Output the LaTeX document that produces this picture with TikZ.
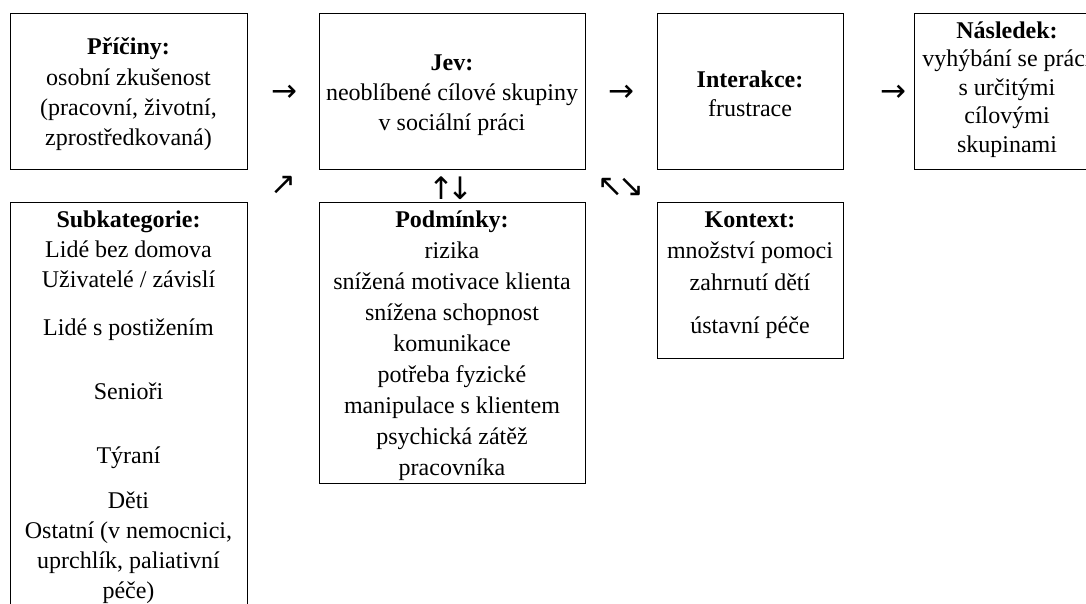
\documentclass[tikz,border=0pt]{standalone}
\usepackage{fontspec}
\setmainfont{Liberation Serif}
\newfontfamily\arrowfont{DejaVu Sans}
\begin{document}
\begin{tikzpicture}[x=1pt,y=-1pt,
  box/.style={draw=black, line width=1pt, inner sep=0pt, rectangle},
  txt/.style={align=center, inner sep=0pt, anchor=north},
  arr/.style={font=\arrowfont\fontsize{31}{34}\selectfont, inner sep=0pt}]
\useasboundingbox (0,0) rectangle (1086,603);
\clip (0,0) rectangle (1086,603);
% boxes
\node (pric)  [box, minimum width=237pt, minimum height=156pt] at (128.5,91) {};
\node (jev)   [box, minimum width=266pt, minimum height=156pt] at (452,91) {};
\node (inter) [box, minimum width=186pt, minimum height=156pt] at (750,91) {};
\node (nasl)  [box, minimum width=186pt, minimum height=156pt] at (1007,91) {};
\node (sub)   [box, minimum width=237pt, minimum height=448pt] at (128.5,426) {};
\node (podm)  [box, minimum width=266pt, minimum height=281pt] at (452,342.5) {};
\node (kont)  [box, minimum width=186pt, minimum height=156pt] at (750,280) {};
% texts
\node (pricT) [txt, font=\fontsize{24}{30.3}\selectfont] at (128.5,33.3)
  {\strut\textbf{Příčiny:}\\\strut osobní zkušenost\\\strut (pracovní, životní,\\\strut zprostředkovaná)};
\node (jevT) [txt, font=\fontsize{24}{30}\selectfont] at (452,49)
  {\strut\textbf{Jev:}\\\strut neoblíbené cílové skupiny\\\strut v sociální práci};
\node (interT) [txt, font=\fontsize{24}{29.5}\selectfont] at (750,66.35)
  {\strut\textbf{Interakce:}\\\strut frustrace};
\node (naslT) [txt, font=\fontsize{24}{28.5}\selectfont] at (1007,18.05)
  {\strut\textbf{Následek:}\\\strut vyhýbání se práci\\\strut s určitými\\\strut cílovými\\\strut skupinami};
\node (podmT) [txt, font=\fontsize{24}{31.1}\selectfont] at (452,205.2)
  {\strut\textbf{Podmínky:}\\\strut rizika\\\strut snížená motivace klienta\\\strut snížena schopnost\\\strut komunikace\\\strut potřeba fyzické\\\strut manipulace s klientem\\\strut psychická zátěž\\\strut pracovníka};
\node (kontT) [txt, font=\fontsize{24}{31.5}\selectfont] at (750,204.95)
  {\strut\textbf{Kontext:}\\\strut množství pomoci\\\strut zahrnutí dětí\\[11.5pt]\strut ústavní péče};
\node (subT) [txt, font=\fontsize{24}{30}\selectfont] at (128.5,206)
  {\strut\textbf{Subkategorie:}\\\strut Lidé bez domova\\\strut Uživatelé / závislí\\[18pt]\strut Lidé s postižením\\[34pt]\strut Senioři\\[34pt]\strut Týraní\\[15pt]\strut Děti\\\strut Ostatní (v nemocnici,\\\strut uprchlík, paliativní\\\strut péče)};
% arrow symbols
\node (a1) [arr] at (284,93) {→};
\node (a2) [arr] at (621,93) {→};
\node (a3) [arr] at (893,93) {→};
\node (a4) [arr] at (283,185) {↗};
\node (a5) [arr] at (441,188) {↑};
\node (a6) [arr] at (460,188) {↓};
\node (a7) [arr] at (610,187) {↖};
\node (a8) [arr] at (631,187) {↘};
\end{tikzpicture}
\end{document}
